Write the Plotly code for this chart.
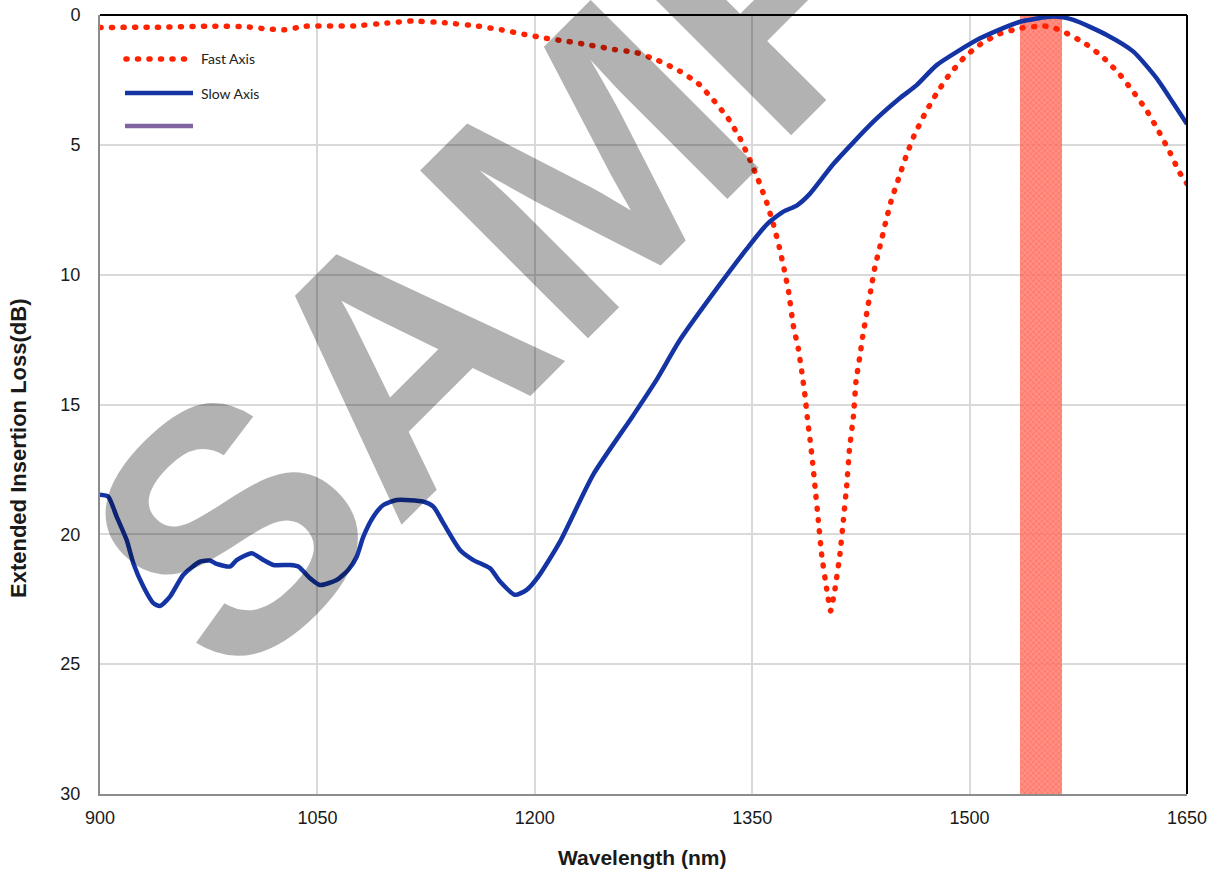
import plotly.graph_objects as go

# ---------------- data ----------------
fast_wl = [900, 939, 979, 1000, 1012, 1027, 1042, 1075, 1098, 1115, 1138, 1161, 1177,
           1193, 1208, 1223, 1239, 1255, 1270, 1285, 1300, 1313, 1323, 1333.5, 1341.6,
           1348.5, 1354.2, 1360, 1364.6, 1368.7, 1372, 1375.1, 1378.4, 1381.8, 1384.2,
           1386.4, 1388, 1389.9, 1391.7, 1393.3, 1395.6, 1398, 1401.4, 1404.1, 1407.1,
           1410.6, 1412.9, 1415.2, 1417, 1419.8, 1421.6, 1424.4, 1426.2, 1429, 1431.7,
           1434.5, 1438.2, 1441.9, 1445.8, 1450.8, 1455.9, 1461.6, 1468.7, 1476.6,
           1485.3, 1495.7, 1506, 1519.8, 1534.8, 1550.9, 1558.9, 1565.8, 1579.6, 1592.3,
           1603.3, 1613, 1622.2, 1630.2, 1637.8, 1644.7, 1650]
fast_loss = [0.48, 0.47, 0.43, 0.45, 0.52, 0.57, 0.43, 0.42, 0.31, 0.23, 0.30, 0.43, 0.57,
             0.75, 0.90, 1.02, 1.17, 1.33, 1.45, 1.75, 2.16, 2.65, 3.26, 3.99, 4.75,
             5.59, 6.35, 7.22, 8.06, 8.94, 9.78, 10.66, 11.97, 12.85, 13.73,
             14.65, 15.49, 16.35, 17.24, 18.15, 19.45, 20.82, 22.11, 22.95, 22.11,
             20.74, 19.45, 18.12, 16.78, 15.47, 14.12, 13.10, 12.39, 11.49, 10.63,
             9.75, 8.90, 8.02, 7.17, 6.33, 5.48, 4.66, 3.85, 3.08,
             2.35, 1.67, 1.18, 0.74, 0.51, 0.42, 0.51, 0.67, 1.09, 1.64,
             2.27, 2.96, 3.68, 4.45, 5.24, 6.05, 6.50]

slow_wl = [900, 905.7, 911.5, 918.4, 923, 929.9, 936.8, 941.4, 948.3, 957.5, 969, 975.9,
           980.5, 989.7, 994.3, 1004.7, 1012.7, 1019.6, 1031.1, 1036.8, 1044.9, 1051.8,
           1063.3, 1071.3, 1077.1, 1081.7, 1088.6, 1095.5, 1104.7, 1123.1, 1130, 1136.9,
           1148.4, 1157.6, 1169.1, 1176, 1186.3, 1194.4, 1202.4, 1217.4, 1240.4, 1268,
           1284.1, 1300.2, 1325.5, 1346.2, 1360, 1371.5, 1380.7, 1389.9, 1406, 1433.6,
           1452, 1463.5, 1477.3, 1507.2, 1534.8, 1557.8, 1571.6, 1594.6, 1613, 1629.1,
           1640.6, 1650]
slow_loss = [18.48, 18.55, 19.32, 20.22, 21.11, 22.01, 22.65, 22.76, 22.40, 21.56, 21.05, 21.01,
             21.14, 21.24, 20.99, 20.73, 20.99, 21.18, 21.18, 21.24, 21.69, 21.95,
             21.76, 21.37, 20.86, 20.09, 19.32, 18.87, 18.68, 18.74, 18.93, 19.57,
             20.60, 20.99, 21.31, 21.82, 22.33, 22.14, 21.63, 20.28, 17.69, 15.41,
             14.04, 12.51, 10.54, 9.01, 8.07, 7.57, 7.34, 6.88, 5.74, 4.11,
             3.20, 2.70, 1.93, 0.90, 0.26, 0.06, 0.19, 0.77, 1.41, 2.44,
             3.40, 4.20]

band_start, band_end = 1535, 1564
band_depth = 30

x_ticks = [900, 1050, 1200, 1350, 1500, 1650]
y_ticks = [0, 5, 10, 15, 20, 25, 30]

series_names = ["Fast Axis", "Slow Axis", ""]

# ---------------- styling / layout ----------------
W, H = 1216, 873
ML, MR, MT, MB = 100, 29, 15, 79
PW, PH = W - ML - MR, H - MT - MB

def px(xp):
    return (xp - ML) / PW

def py(yp):
    return (H - MB - yp) / PH

RED = "#ff2200"
BLUE = "#1434a4"
PURPLE = "#8064a2"
FONT = "Liberation Sans, Arial, sans-serif"
RED_DASH = "1px,10.5px"

fig = go.Figure()

# C-band highlight
fig.add_trace(go.Bar(
    x=[(band_start + band_end) / 2], y=[band_depth], base=0,
    width=band_end - band_start,
    marker=dict(color="rgba(255,125,110,0.85)", line=dict(width=0),
                pattern=dict(shape="x", fgcolor="rgba(255,45,30,0.75)", size=4, solidity=0.3)),
    showlegend=False, hoverinfo="skip"))

fig.add_trace(go.Scatter(x=fast_wl, y=fast_loss, mode="lines", name=series_names[0],
                         line=dict(color=RED, width=5.5, dash=RED_DASH, shape="spline", smoothing=0.4),
                         showlegend=False))
fig.add_trace(go.Scatter(x=slow_wl, y=slow_loss, mode="lines", name=series_names[1],
                         line=dict(color=BLUE, width=4.5, shape="spline", smoothing=0.6),
                         showlegend=False))

axis_font = dict(family=FONT, size=18, color="#1a1a1a")

fig.update_layout(
    width=W, height=H,
    margin=dict(l=ML, r=MR, t=MT, b=MB),
    paper_bgcolor="white", plot_bgcolor="white",
    bargap=0,
    xaxis=dict(range=[900, 1650], tickvals=x_ticks, showgrid=True, gridcolor="#d9d9d9",
               gridwidth=1.5, zeroline=False, showline=True, linecolor="#8c8c8c", linewidth=2,
               ticks="", tickfont=axis_font, ticklabelstandoff=6, automargin=False),
    yaxis=dict(range=[30, 0], tickvals=y_ticks, showgrid=True, gridcolor="#d9d9d9",
               gridwidth=1.5, zeroline=False, showline=True, linecolor="#8c8c8c", linewidth=2,
               ticks="", tickfont=axis_font, ticklabelstandoff=14, automargin=False),
    showlegend=False,
)

shapes = [
    # top and right borders
    dict(type="line", xref="paper", yref="paper", x0=0, x1=1, y0=1, y1=1,
         line=dict(color="black", width=2)),
    dict(type="line", xref="paper", yref="paper", x0=1, x1=1, y0=0, y1=1,
         line=dict(color="black", width=2)),
    # legend samples
    dict(type="line", xref="paper", yref="paper", x0=px(126), x1=px(188), y0=py(59), y1=py(59),
         line=dict(color=RED, width=5.5, dash=RED_DASH)),
    dict(type="line", xref="paper", yref="paper", x0=px(125), x1=px(193), y0=py(93), y1=py(93),
         line=dict(color=BLUE, width=4.5)),
    dict(type="line", xref="paper", yref="paper", x0=px(125), x1=px(193), y0=py(126), y1=py(126),
         line=dict(color=PURPLE, width=4.5)),
]
fig.update_layout(shapes=shapes)

annotations = [
    dict(xref="paper", yref="paper", x=px(199), y=py(59), text=series_names[0], showarrow=False,
         xanchor="left", yanchor="middle", font=dict(family="Lato, sans-serif", size=14, color="#222")),
    dict(xref="paper", yref="paper", x=px(199), y=py(93), text=series_names[1], showarrow=False,
         xanchor="left", yanchor="middle", font=dict(family="Lato, sans-serif", size=14, color="#222")),
    # axis titles
    dict(xref="paper", yref="paper", x=px(642), y=py(857), text="<b>Wavelength (nm)</b>",
         showarrow=False, xanchor="center", yanchor="middle",
         font=dict(family=FONT, size=21, color="#1a1a1a")),
    dict(xref="paper", yref="paper", x=px(19), y=py(449), text="<b>Extended Insertion Loss(dB)</b>",
         showarrow=False, xanchor="center", yanchor="middle", textangle=-90,
         font=dict(family=FONT, size=22, color="#1a1a1a")),
    # watermark
    dict(xref="paper", yref="paper", x=px(657), y=py(101), text="<b>SAMPLE</b>", showarrow=False,
         textangle=-45, xanchor="center", yanchor="middle",
         font=dict(family=FONT, size=345, color="rgba(0,0,0,0.3)")),
]
fig.update_layout(annotations=annotations)

# page without the default body margin; round line caps turn the dash pattern into round dots
post = """
document.documentElement.style.margin = '0';
document.body.style.margin = '0';
document.body.style.overflow = 'hidden';
var st = document.createElement('style');
st.innerHTML = 'path[style*="dasharray"]{stroke-linecap:round !important;}';
document.head.appendChild(st);
"""
fig.write_html("out.html", post_script=post, config={"displayModeBar": False})
